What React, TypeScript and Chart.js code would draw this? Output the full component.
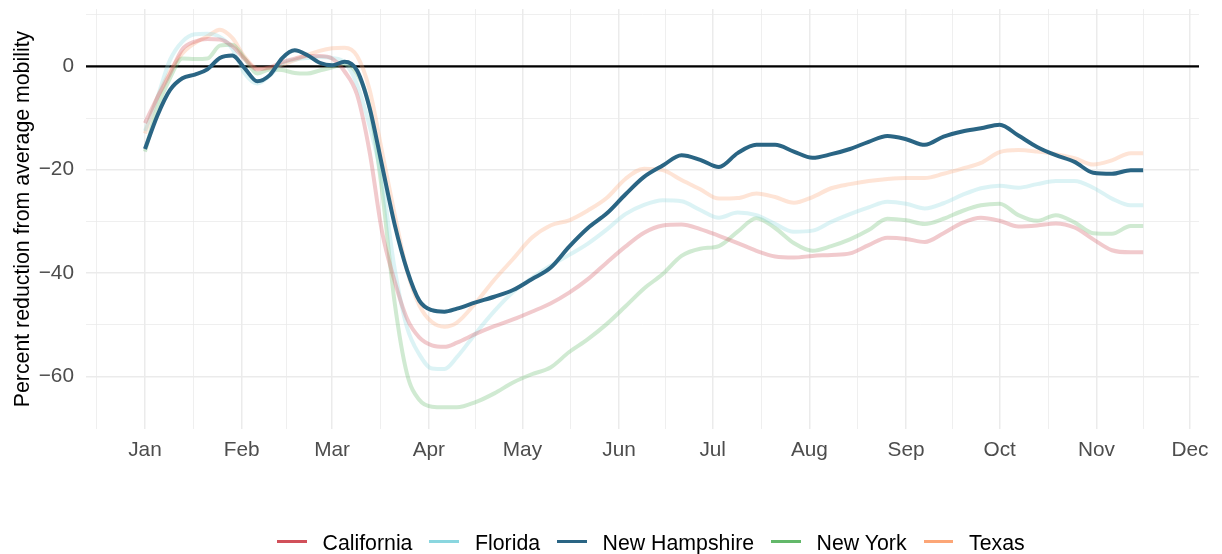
import React, { useEffect, useRef } from "react";
import { Chart, registerables } from "chart.js";

Chart.register(...registerables);

// Day of year 2020 (0 = Jan 1)
const days = [0,4,8,12,16,20,24,28,32,36,40,44,48,52,56,60,64,68,72,76,80,84,88,92,96,100,
  106,112,118,124,130,136,142,148,154,160,166,172,178,184,190,196,202,208,214,220,226,232,238,244,
  250,256,262,268,274,280,286,292,298,304,310,316,320];

const california = [-11,-6,-1.5,3.3,4.8,5.3,5.2,3.9,1.4,-0.6,-0.2,0.8,1.5,2.0,2.0,1.5,-1,-5.5,-16.5,-32,-41.5,-48.8,-52.5,-54,-54.3,-53.5,
  -51.8,-50.3,-49,-47.5,-45.9,-43.8,-41.2,-38,-34.9,-32.2,-30.8,-30.6,-31.5,-32.8,-34.2,-35.7,-36.8,-37,-36.7,-36.5,-36.2,-34.6,-33.2,-33.4,
  -34.0,-32.3,-30.3,-29.3,-29.9,-31,-30.8,-30.4,-31.2,-33.5,-35.6,-36,-36];

const florida = [-12.5,-6,1.2,4.8,6.2,6.3,5.7,3.4,-1.4,-3.3,-1.8,0.6,1.3,1.6,1.8,1.6,0.8,-3.5,-11.5,-22,-39,-50.5,-55.8,-58.5,-58.6,-56.3,
  -51.7,-47.4,-43.7,-41,-38.6,-36.5,-34.3,-31.6,-28.6,-26.8,-25.9,-26.1,-27.8,-29.3,-28.3,-28.8,-30.5,-32,-31.8,-30.1,-28.6,-27.3,-26.2,-26.6,
  -27.5,-26.5,-24.9,-23.6,-23.1,-23.5,-22.8,-22.2,-22.2,-23.5,-25.6,-26.9,-26.9];

const newHampshire = [-16,-9.5,-4.6,-2.3,-1.6,-0.6,1.6,2.1,-0.4,-2.9,-1.7,1.6,3.1,2.2,0.7,0.2,0.9,-0.8,-8,-19.2,-30.5,-39.4,-45.4,-47.2,-47.5,-46.9,
  -45.7,-44.6,-43.3,-41.2,-39,-34.9,-31.3,-28.5,-24.8,-21.4,-19.2,-17.2,-18.1,-19.5,-16.8,-15.2,-15.2,-16.5,-17.7,-17.0,-16,-14.6,-13.5,-14.1,
  -15.2,-13.6,-12.6,-12.0,-11.3,-13.4,-15.6,-17.2,-18.5,-20.6,-20.8,-20.1,-20.1];

const newYork = [-16.5,-8,-2.3,1.5,1.4,1.5,4.0,4.2,1.5,-1.4,-0.6,-0.7,-1.3,-1.4,-0.8,-0.2,0.5,-1.5,-8,-24,-45.5,-59.5,-64.6,-65.9,-66,-66,
  -65,-63.3,-61.2,-59.6,-58.3,-55.3,-52.8,-49.9,-46.5,-43,-40.2,-36.7,-35.3,-34.8,-32.0,-29.4,-31.3,-34.2,-35.7,-34.8,-33.5,-31.7,-29.5,-29.8,
  -30.5,-29.5,-28,-26.9,-26.6,-28.8,-29.9,-28.8,-30.2,-32.3,-32.4,-30.9,-30.9];

const texas = [-13,-6,-1,2.5,4.5,5.8,7.1,5.5,1.8,-0.4,-0.3,0.3,1.2,2.2,3.0,3.5,3.6,2.0,-4.5,-16.5,-28.5,-39.5,-46.3,-49.5,-50.4,-49.6,
  -45.8,-41.3,-37.3,-33.2,-30.8,-29.8,-27.9,-25.5,-21.8,-19.8,-20.1,-22.0,-23.8,-25.6,-25.5,-24.6,-25.3,-26.4,-25.3,-23.6,-22.8,-22.2,-21.8,-21.6,
  -21.6,-20.8,-19.8,-18.7,-16.6,-16.2,-16.5,-17.0,-17.8,-19.0,-18.2,-16.8,-16.8];

const seriesNames = ["California", "Florida", "New Hampshire", "New York", "Texas"];
const seriesColors = ["#D1505A", "#8AD6DF", "#2A6584", "#63B86A", "#FCA677"];
const fadedColors = ["rgba(209,80,90,0.3)", "rgba(138,214,223,0.3)", "#2A6584", "rgba(99,184,106,0.3)", "rgba(252,166,119,0.3)"];
const seriesValues = [california, florida, newHampshire, newYork, texas];

const monthStarts = [0,31,60,91,121,152,182,213,244,274,305,335];
const monthLabels = ["Jan","Feb","Mar","Apr","May","Jun","Jul","Aug","Sep","Oct","Nov","Dec"];
const monthMids = [-15.5,15.5,45.5,75.5,106,136.5,167,197.5,228.5,259,289.5,320];

const yMajor = [0,-20,-40,-60];
const yMinor = [10,-10,-30,-50];

const FONT = "'Liberation Sans', Arial, Helvetica, sans-serif";

export default function App() {
  const ref = useRef<HTMLCanvasElement | null>(null);

  useEffect(() => {
    if (!ref.current) return;
    const zeroLine = {
      id: "zeroLine",
      beforeDatasetsDraw(chart: any) {
        const { ctx, chartArea, scales } = chart;
        const y = scales.y.getPixelForValue(0);
        ctx.save();
        ctx.strokeStyle = "#000";
        ctx.lineWidth = 2.4;
        ctx.beginPath();
        ctx.moveTo(chartArea.left, y);
        ctx.lineTo(chartArea.right, y);
        ctx.stroke();
        ctx.restore();
      },
    };

    const datasets = seriesNames.map((name, i) => ({
      label: name,
      data: days.map((d, j) => ({ x: d, y: seriesValues[i][j] })),
      borderColor: fadedColors[i],
      backgroundColor: fadedColors[i],
      borderWidth: 4,
      pointRadius: 0,
      fill: false,
      cubicInterpolationMode: "monotone" as const,
      order: name === "New Hampshire" ? 0 : 1,
    }));

    const chart = new Chart(ref.current, {
      type: "line",
      data: { datasets },
      plugins: [zeroLine],
      options: {
        animation: false,
        responsive: false,
        devicePixelRatio: 1,
        layout: { padding: { top: 1, right: 15, left: 0, bottom: 0 } },
        plugins: { legend: { display: false }, tooltip: { enabled: false } },
        scales: {
          x: {
            type: "linear",
            min: -18.9,
            max: 337.9,
            border: { display: false },
            grid: {
              drawTicks: false,
              color: "#EBEBEB",
              lineWidth: (c: any) => (monthStarts.includes(c.tick?.value) ? 1.5 : 0.8),
            },
            ticks: {
              autoSkip: false,
              maxRotation: 0,
              padding: 9,
              color: "#4D4D4D",
              font: { family: FONT, size: 20.8 },
              callback: (v: any) => {
                const idx = monthStarts.indexOf(Number(v));
                return idx >= 0 ? monthLabels[idx] : "";
              },
            },
            afterBuildTicks: (scale: any) => {
              const all = [...monthStarts, ...monthMids].sort((a, b) => a - b);
              scale.ticks = all.filter((v) => v >= scale.min && v <= scale.max).map((v) => ({ value: v }));
            },
            afterFit: (scale: any) => {
              scale.height = 117;
              scale.paddingLeft = 0;
              scale.paddingRight = 0;
              scale.paddingTop = 0;
              scale.paddingBottom = 0;
            },
          },
          y: {
            type: "linear",
            min: -70.2,
            max: 11.1,
            border: { display: false },
            grid: {
              drawTicks: false,
              color: "#EBEBEB",
              lineWidth: (c: any) => (yMajor.includes(c.tick?.value) ? 1.5 : 0.8),
            },
            ticks: {
              padding: 12,
              color: "#4D4D4D",
              font: { family: FONT, size: 20.8 },
              callback: (v: any) => {
                const n = Number(v);
                if (!yMajor.includes(n)) return "";
                return n < 0 ? "\u2212" + Math.abs(n) : String(n);
              },
            },
            afterBuildTicks: (scale: any) => {
              scale.ticks = [...yMinor, ...yMajor].sort((a, b) => b - a).map((v) => ({ value: v }));
            },
            afterFit: (scale: any) => {
              scale.width = 78;
              scale.paddingTop = 0;
              scale.paddingBottom = 0;
              scale.paddingLeft = 0;
              scale.paddingRight = 0;
            },
            title: {
              display: true,
              text: "Percent reduction from average mobility",
              color: "#000",
              font: { family: FONT, size: 21.3 },
              padding: { top: 2, bottom: 0 },
            },
          },
        },
      },
    });
    const prevOverflow = document.body.style.overflow;
    document.body.style.overflow = "hidden";
    return () => {
      chart.destroy();
      document.body.style.overflow = prevOverflow;
    };
  }, []);

  return (
    <div style={{ position: "relative", width: 1206, height: 546 }}>
      <canvas ref={ref} width={1206} height={538} style={{ display: "block", width: 1206, height: 538 }} />
      <div
        style={{
          position: "absolute",
          left: 269,
          top: 520,
          height: 26,
          display: "flex",
          alignItems: "center",
          fontFamily: FONT,
          fontSize: 21.3,
          color: "#000",
          whiteSpace: "nowrap",
        }}
      >
        {seriesNames.map((name, i) => (
          <div key={name} style={{ display: "flex", alignItems: "center", marginRight: i < seriesNames.length - 1 ? 17 : 0 }}>
            <span style={{ display: "inline-block", width: 29.5, height: 3, background: seriesColors[i], marginRight: 16 }} />
            <span style={{ position: "relative", top: 2, lineHeight: "26px" }}>{name}</span>
          </div>
        ))}
      </div>
    </div>
  );
}
